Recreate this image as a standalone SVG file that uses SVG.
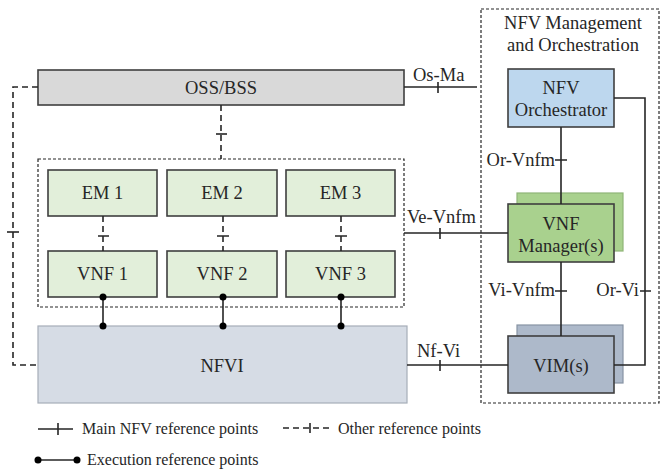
<svg xmlns="http://www.w3.org/2000/svg" width="661" height="471" viewBox="0 0 661 471">
<defs>
<style>
text{font-family:"Liberation Serif","Times New Roman",serif;fill:#262626;font-size:18.5px}
.c{text-anchor:middle}
.lg{font-size:16px}
.box{stroke:#3f3f3f;stroke-width:1.6}
.sl{stroke:#262626;stroke-width:1.6;fill:none}
.dl{stroke:#262626;stroke-width:1.6;fill:none;stroke-dasharray:6 4}
.grp{stroke:#262626;stroke-width:1.2;fill:none;stroke-dasharray:3 2}
.dot{fill:#000}
</style>
</defs>
<rect width="661" height="471" fill="#fff"/>

<g id="mano-group">
<rect class="grp" x="481" y="9" width="178" height="394"/>
<text class="c" x="573" y="29">NFV Management</text>
<text class="c" x="573" y="51">and Orchestration</text>
</g>
<g id="vnf-group">
<rect class="grp" x="38" y="159" width="366" height="148"/>
</g>

<g id="oss-bss">
<rect class="box" x="38" y="70" width="366" height="35" fill="#d9d9d9" stroke="#6b6b6b"/>
<text class="c" x="221" y="94">OSS/BSS</text>
</g>
<g id="em1"><rect class="box" x="48" y="170" width="109" height="46" fill="#e2efda"/><text class="c" x="102.5" y="199">EM 1</text></g>
<g id="em2"><rect class="box" x="167" y="170" width="110" height="46" fill="#e2efda"/><text class="c" x="222" y="199">EM 2</text></g>
<g id="em3"><rect class="box" x="286" y="170" width="109" height="46" fill="#e2efda"/><text class="c" x="340.5" y="199">EM 3</text></g>
<g id="vnf1"><rect class="box" x="48" y="251" width="109" height="46" fill="#e2efda"/><text class="c" x="102.5" y="280">VNF 1</text></g>
<g id="vnf2"><rect class="box" x="167" y="251" width="110" height="46" fill="#e2efda"/><text class="c" x="222" y="280">VNF 2</text></g>
<g id="vnf3"><rect class="box" x="286" y="251" width="109" height="46" fill="#e2efda"/><text class="c" x="340.5" y="280">VNF 3</text></g>
<g id="nfvi">
<rect x="38" y="326" width="369" height="77" fill="#d6dce5" stroke="#a6adb8" stroke-width="1.2"/>
<text class="c" x="222" y="372">NFVI</text>
</g>
<g id="orchestrator">
<rect class="box" x="508" y="69" width="106" height="58" fill="#bdd7ee" stroke="#6f7f90"/>
<text class="c" x="561" y="94">NFV</text>
<text class="c" x="561" y="116">Orchestrator</text>
</g>
<g id="vnfm">
<rect x="517" y="193" width="106" height="58" fill="#a9d18e" stroke="#8fb577" stroke-width="1.2"/>
<rect class="box" x="508" y="204" width="106" height="58" fill="#a9d18e" stroke="#6f8f5f"/>
<text class="c" x="561" y="230">VNF</text>
<text class="c" x="561" y="252">Manager(s)</text>
</g>
<g id="vim">
<rect x="517" y="325" width="106" height="58" fill="#adb9ca" stroke="#8793a3" stroke-width="1.2"/>
<rect class="box" x="508" y="336" width="106" height="57" fill="#adb9ca" stroke="#5f6b7a"/>
<text class="c" x="561" y="372">VIM(s)</text>
</g>

<g id="connectors">
<!-- main reference points -->
<path class="sl" d="M404 87H477M438 82V93"/>
<text x="413" y="81">Os-Ma</text>
<path class="sl" d="M404 233H508M440 228V239"/>
<text x="407" y="223">Ve-Vnfm</text>
<path class="sl" d="M407 365H508M440 360V371"/>
<text x="417" y="357">Nf-Vi</text>
<path class="sl" d="M561 127V204M555 160H567"/>
<text x="555" y="166" text-anchor="end">Or-Vnfm</text>
<path class="sl" d="M561 262V336M555 291H567"/>
<text x="555" y="296" text-anchor="end">Vi-Vnfm</text>
<path class="sl" d="M614 98H645V365H614M640 291H651"/>
<text x="639" y="296" text-anchor="end">Or-Vi</text>
<!-- other reference points -->
<path class="dl" d="M38 87H13V365H38"/>
<path class="sl" d="M7 232H19"/>
<path class="dl" d="M221 105V159"/>
<path class="sl" d="M216 134H227"/>
<path class="dl" d="M103 216V251M223 216V251M341 216V251"/>
<path class="sl" d="M98 236H109M217 236H229M335 236H347"/>
<!-- execution reference points -->
<path class="sl" d="M103 297V326M223 297V326M341 297V326"/>
<circle class="dot" cx="103" cy="297" r="3.5"/><circle class="dot" cx="103" cy="326" r="3.5"/>
<circle class="dot" cx="223" cy="297" r="3.5"/><circle class="dot" cx="223" cy="326" r="3.5"/>
<circle class="dot" cx="341" cy="297" r="3.5"/><circle class="dot" cx="341" cy="326" r="3.5"/>
</g>

<g id="legend">
<path class="sl" d="M38 429H73M58 423V435"/>
<text class="lg" x="82" y="434">Main NFV reference points</text>
<path class="dl" d="M283 428H331" stroke-dasharray="4 3"/>
<path class="sl" d="M310 423V433"/>
<text class="lg" x="338" y="434">Other reference points</text>
<path class="sl" d="M38 460H77"/>
<circle class="dot" cx="38" cy="460" r="3.5"/><circle class="dot" cx="77" cy="460" r="3.5"/>
<text class="lg" x="87" y="465">Execution reference points</text>
</g>
</svg>
